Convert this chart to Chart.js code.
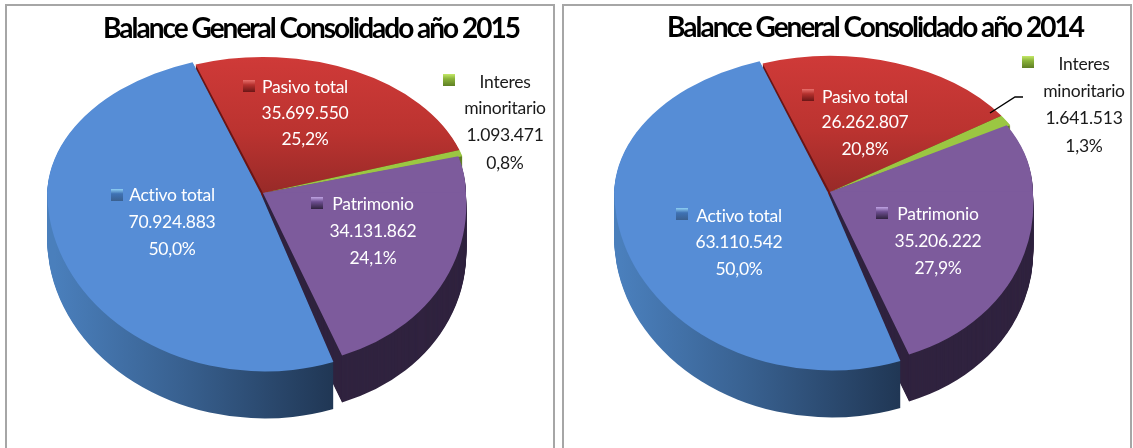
<!DOCTYPE html>
<html><head><meta charset="utf-8">
<style>
html,body{margin:0;padding:0;background:#fff;width:1133px;height:448px;overflow:hidden}
canvas{position:absolute;top:0;filter:blur(.45px)}
.panel{position:absolute;top:4px;height:460px;border:2px solid #a6a6a6;box-sizing:border-box}
</style>
<script src="https://cdn.jsdelivr.net/npm/chart.js@4"></script>
</head><body>
<div class="panel" style="left:5px;width:550px"></div>
<div class="panel" style="left:562px;width:570px"></div>
<canvas id="c2015" width="558" height="448" style="left:0"></canvas>
<canvas id="c2014" width="573" height="448" style="left:560px"></canvas>
<script>
const categories = ['Activo total', 'Pasivo total', 'Interes minoritario', 'Patrimonio'];
const values2015 = [70924883, 35699550, 1093471, 34131862];
const values2014 = [63110542, 26262807, 1641513, 35206222];
const title2015 = 'Balance General Consolidado año 2015';
const title2014 = 'Balance General Consolidado año 2014';
const faceColors = ['#568dd6', '#c43634', '#9bc742', '#7d5b9c'];
const sideColors = ['#3a6090', '#6b1616', '#5f7f24', '#30233f'];
const keyTops = ['#8fd0f5', '#e8706c', '#c4e868', '#c0a4e4'];
const keyMids = ['#3f72b4', '#b5312e', '#8ab33a', '#6d4e90'];

const layout2015 = {
  apex: [263, 193], titlePad: 64, titleTop: 12,
  labels: [
    {x:172, y:[195,222,249], key:[111,189]},
    {x:305, y:[87,113,139], key:[243,80]},
    {x:505, y:[82,108,135,163], key:[443,74], dark:true},
    {x:373, y:[204,231,258], key:[311,197]}
  ]
};
const layout2014 = {
  apex: [270, 192], titlePad: 57, titleTop: 11,
  labels: [
    {x:179, y:[216,242,269], key:[116,208]},
    {x:305, y:[97,122,149], key:[242,89]},
    {x:524, y:[64,91,118,146], key:[462,56], dark:true},
    {x:378, y:[214,241,268], key:[316,207]}
  ],
  leader: [[430,113],[455,97],[463,97]]
};

const R = 207, K_BACK = 0.657, K_FRONT = 0.83, DEPTH = 47;
// per-slice adjustments of the tilted view: x shift, x scale, upper shear, lower shear
const VIEW = [
  {dx:4, sx:1.005, up:-0.015, low:0.02},
  {dx:0, sx:1, up:0, low:0},
  {dx:0, sx:1, up:0, low:0},
  {dx:0, sx:0.98, up:0, low:0.08}
];

function fmt(n){ return String(n).replace(/\B(?=(\d{3})+$)/g,'.'); }
function pct(v,all){ const t=all.reduce((a,b)=>a+b,0); return (v/t*100).toFixed(1).replace('.',',')+'%'; }

function paintArc(ctx, arc, fill, shift, lay, s, v){
  const fake = Object.create(arc);
  fake.options = Object.assign({}, arc.options, {backgroundColor:fill, borderWidth:0});
  const [ax,ay] = lay.apex;
  const H = ctx.canvas.height, W = ctx.canvas.width;
  const seam = ay + shift;
  [[K_BACK,v.up,-50,seam+50.5],[K_FRONT,v.low,seam-.5,H+100]].forEach(([k,sh,y0,h])=>{
    ctx.save();
    ctx.beginPath(); ctx.rect(0,y0,W,h); ctx.clip();
    ctx.translate(ax+v.dx,seam);
    ctx.transform(s*v.sx,0,sh*s*k,s*k,0,0);
    ctx.translate(-arc.x,-arc.y);
    fake.draw(ctx);
    ctx.restore();
  });
}

const pie3d = {
  id:'pie3d',
  beforeDraw(chart){ chart.ctx.letterSpacing = '-2px'; },
  beforeDatasetsDraw(chart, args, opts){
    const ctx = chart.ctx, lay = opts.lay, arcs = chart.getDatasetMeta(0).data;
    const s = R/arcs[1].outerRadius, cx = arcs[0].x, cy = arcs[0].y, r = arcs[0].outerRadius;
    ctx.save();
    ctx.letterSpacing='0px';
    const blueSide = ctx.createLinearGradient(cx-r,0,cx+r*0.36,0);
    blueSide.addColorStop(0,'#4a7fbc'); blueSide.addColorStop(.45,'#38608f'); blueSide.addColorStop(1,'#1f3552');
    const redFace = ctx.createLinearGradient(0,cy-r,0,cy);
    redFace.addColorStop(0,'#cf3a38'); redFace.addColorStop(.55,'#bb3330'); redFace.addColorStop(1,'#982a28');
    const sides = [blueSide, sideColors[1], sideColors[2], sideColors[3]];
    const tops = [faceColors[0], redFace, faceColors[2], faceColors[3]];
    [1,2,3,0].forEach(i=>{
      for(let d=DEPTH;d>=1;d--) paintArc(ctx,arcs[i],sides[i],d,lay,s,VIEW[i]);
    });
    [1,2,3,0].forEach(i=>paintArc(ctx,arcs[i],tops[i],0,lay,s,VIEW[i]));
    ctx.restore();
    return false;
  },
  afterDraw(chart, args, opts){
    const ctx = chart.ctx, lay = opts.lay, vals = chart.data.datasets[0].data;
    ctx.save();
    ctx.letterSpacing='-0.25px';
    if(lay.leader){
      ctx.strokeStyle='#000'; ctx.lineWidth=1.4; ctx.beginPath();
      lay.leader.forEach((p,i)=> i?ctx.lineTo(p[0],p[1]):ctx.moveTo(p[0],p[1]));
      ctx.stroke();
    }
    ctx.font = '17.5px Lato'; ctx.textAlign='center'; ctx.textBaseline='middle';
    chart.data.labels.forEach((name,i)=>{
      const L = lay.labels[i];
      const nameLines = name==='Interes minoritario' ? ['Interes','minoritario'] : [name];
      const lines = nameLines.concat([fmt(vals[i]), pct(vals[i],vals)]);
      ctx.fillStyle = L.dark ? '#1a1a1a' : '#ffffff';
      lines.forEach((t,j)=>ctx.fillText(t, L.x, L.y[j]));
      const g = ctx.createLinearGradient(0,L.key[1],0,L.key[1]+12);
      g.addColorStop(0,keyTops[i]); g.addColorStop(.4,keyMids[i]); g.addColorStop(1,sideColors[i]);
      ctx.fillStyle=g; ctx.fillRect(L.key[0],L.key[1],12,12);
    });
    ctx.restore();
  }
};

function makeChart(id, values, titleText, lay){
  return new Chart(document.getElementById(id),{
    type:'pie',
    plugins:[pie3d],
    data:{labels:categories,datasets:[{data:values,backgroundColor:faceColors,borderWidth:0,offset:[22,0,0,0],hoverOffset:0}]},
    options:{
      responsive:false,animation:false,events:[],rotation:161,
      layout:{padding:{left:lay.titlePad,right:0,top:0,bottom:0}},
      plugins:{
        legend:{display:false},tooltip:{enabled:false},
        title:{display:true,text:titleText,color:'#000',align:'center',
          font:{family:'Lato',weight:'bold',size:28},padding:{top:lay.titleTop,bottom:4}},
        pie3d:{lay}
      }
    }
  });
}
makeChart('c2015',values2015,title2015,layout2015);
makeChart('c2014',values2014,title2014,layout2014);
</script>
</body></html>
